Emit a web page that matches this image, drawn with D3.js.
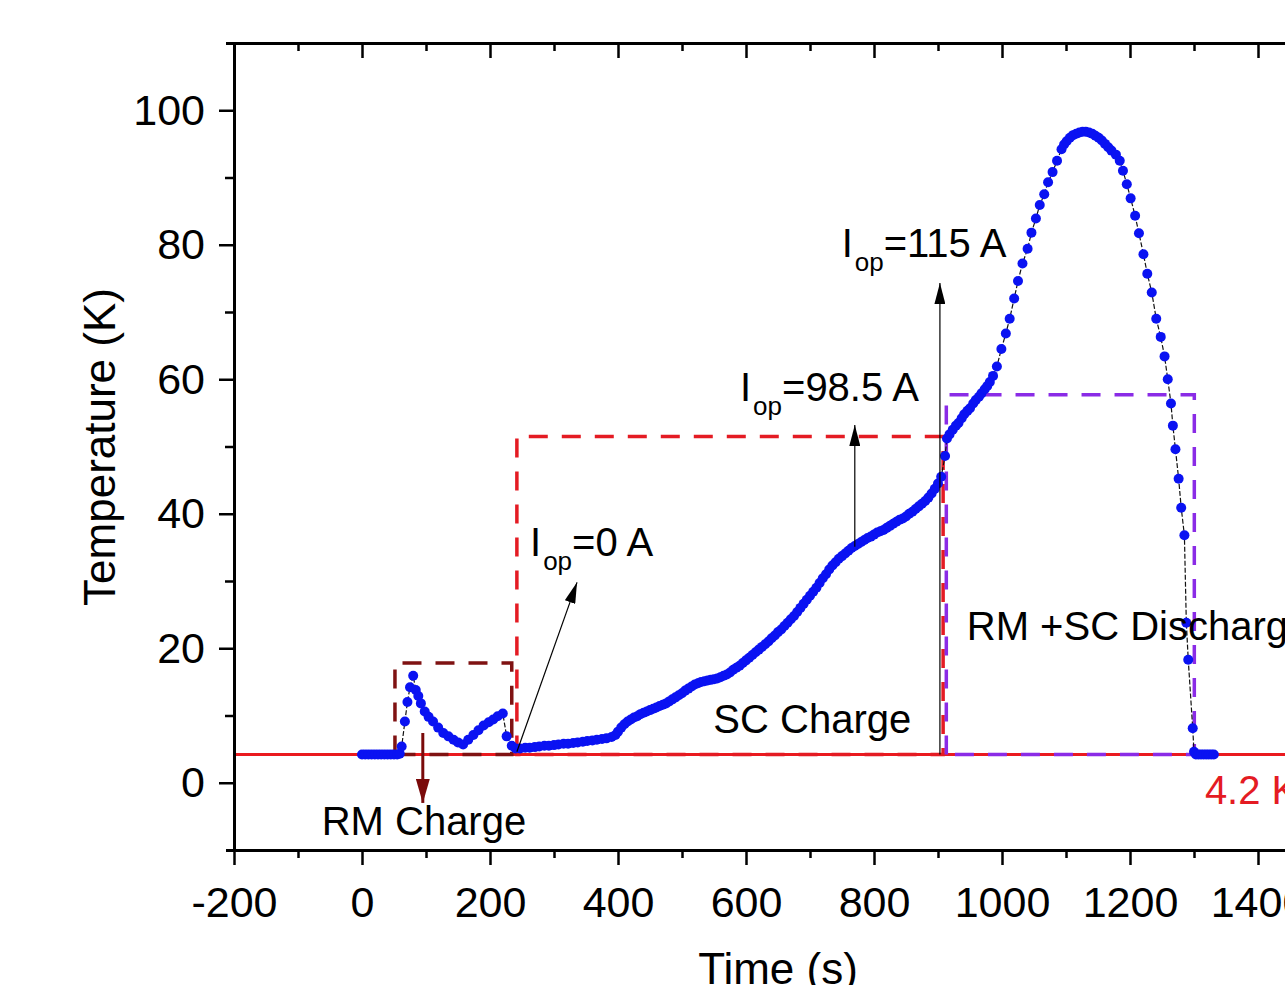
<!DOCTYPE html>
<html>
<head>
<meta charset="utf-8">
<script src="https://cdn.jsdelivr.net/npm/d3@7"></script>
<style>
  body { margin: 0; background: #fff; }
  svg { display: block; font-family: "Liberation Sans", Arial, sans-serif; }
</style>
</head>
<body>
<div class="chart"></div>
<script>
// time (s) and temperature (K)
const times = [
  0, 5, 10, 15, 20, 25, 30, 35, 40, 45, 50, 55, 59,
  62, 67, 71, 75, 80, 84, 88, 92, 98, 104, 111, 119, 127, 135, 143, 150, 158,
  166, 174, 182, 190, 198, 205, 212, 220, 226, 234, 240,
  247, 255, 262, 270, 277, 285, 292, 300, 307, 315, 322, 330, 337, 345, 352,
  360, 367, 375, 382, 390, 396,
  400, 405, 410, 415, 420, 425, 430, 435, 440, 445, 450, 455, 460, 465, 470,
  475, 480, 485, 490, 495, 500, 505, 510, 515, 520, 525, 530, 535, 540, 545,
  550, 555, 560, 565, 570, 575, 580, 585, 590, 595, 600, 605, 610, 615, 620,
  625, 630, 635, 640, 645, 650, 655, 660, 665, 670, 675, 680, 685, 690, 695,
  700, 705, 710, 715, 720, 725, 730, 735, 740, 745, 750, 755, 760, 765, 770,
  775, 780, 785, 790, 795, 800, 805, 810, 815, 820, 825, 830, 835, 840, 845,
  850, 855, 860, 865, 870, 875, 880, 885, 890, 895, 900, 905, 911,
  914, 918, 923, 928, 932, 937, 941, 946, 950, 955, 959, 964, 968, 973, 977,
  981, 986, 992, 999, 1006, 1012, 1019, 1025, 1032, 1040, 1046, 1053, 1059,
  1066, 1072, 1079, 1086, 1093, 1097, 1101, 1106, 1111, 1116, 1121, 1126,
  1131, 1136, 1141, 1146, 1151, 1156, 1161, 1166, 1171, 1178, 1184, 1189,
  1195, 1201, 1208, 1214, 1221, 1227, 1234, 1241, 1248, 1254, 1259, 1264,
  1267, 1271, 1276, 1280, 1285, 1288, 1291, 1298, 1300, 1303, 1307, 1311,
  1315, 1319, 1323, 1327, 1331
];
const temps = [
  4.2, 4.2, 4.2, 4.2, 4.2, 4.2, 4.2, 4.2, 4.2, 4.2, 4.2, 4.2, 4.3,
  5.4, 9.1, 12.0, 14.2, 15.9, 13.8, 12.9, 11.8, 10.6, 9.8, 9.1, 8.2, 7.4, 6.9, 6.4, 6.0, 5.7,
  6.4, 7.1, 7.8, 8.5, 9.0, 9.4, 9.9, 10.3, 6.9, 5.5, 5.1,
  5.1, 5.2, 5.2, 5.3, 5.4, 5.5, 5.5, 5.6, 5.7, 5.8, 5.8, 5.9, 6.0, 6.1, 6.2,
  6.3, 6.4, 6.5, 6.6, 6.8, 7.1,
  7.6, 8.2, 8.7, 9.1, 9.4, 9.7, 9.9, 10.2, 10.4, 10.6, 10.8, 11.0, 11.2, 11.4, 11.6,
  11.8, 12.1, 12.4, 12.7, 13.0, 13.3, 13.7, 14.0, 14.3, 14.6, 14.8, 15.0, 15.1, 15.2, 15.3,
  15.4, 15.5, 15.7, 15.9, 16.1, 16.4, 16.8, 17.1, 17.4, 17.8, 18.2, 18.6, 19.0, 19.4, 19.8,
  20.2, 20.6, 21.0, 21.5, 21.9, 22.4, 22.8, 23.3, 23.8, 24.3, 24.8, 25.4, 26.0, 26.6, 27.2,
  27.8, 28.4, 29.0, 29.7, 30.4, 31.0, 31.7, 32.3, 32.8, 33.3, 33.7, 34.1, 34.5, 34.9, 35.2,
  35.5, 35.8, 36.1, 36.4, 36.6, 36.9, 37.2, 37.4, 37.6, 37.9, 38.2, 38.5, 38.8, 39.1, 39.3,
  39.6, 40.0, 40.3, 40.7, 41.1, 41.5, 41.9, 42.4, 43.0, 43.7, 44.5, 45.5, 48.6,
  51.2, 51.8, 52.5, 53.1, 53.5, 54.2, 54.8, 55.3, 55.7, 56.4, 56.9, 57.4, 57.9, 58.5, 59.0,
  59.6, 60.5, 61.9, 64.5, 66.8, 69.0, 72.0, 74.6, 77.2, 79.4, 81.8, 83.9, 85.9,
  87.5, 89.3, 90.8, 92.5, 94.2, 94.9, 95.4, 95.9, 96.3, 96.5, 96.7, 96.8,
  96.8, 96.7, 96.5, 96.2, 95.9, 95.5, 95.0, 94.5, 94.0, 93.4, 92.5, 91.0,
  89.0, 86.9, 84.3, 81.7, 78.6, 75.7, 72.9, 69.0, 66.3, 63.4, 60.0, 56.4,
  53.1, 49.6, 45.2, 40.9, 36.8, 23.8, 18.3, 8.1, 4.6, 4.2, 4.2, 4.2,
  4.2, 4.2, 4.2, 4.2, 4.2
];

// [start, end, level] of the three current windows
const rmCharge = [51.5, 234, 17.8];
const scCharge = [242, 908, 51.5];
const discharge = [913, 1300.5, 57.7];
const baseTemp = 4.2;

const xMajor = [-200, 0, 200, 400, 600, 800, 1000, 1200, 1400];
const xMinor = [-100, 100, 300, 500, 700, 900, 1100, 1300, 1500];
const yMajor = [0, 20, 40, 60, 80, 100];
const yMinor = [10, 30, 50, 70, 90];

const width = 1285, height = 985;
const fontTick = 43, fontTitle = 44, fontNote = 40, fontSub = 26;

const svg = d3.select('.chart')
    .append('svg')
    .attr('width', width)
    .attr('height', height);

const x = d3.scaleLinear().domain([-200, 1500]).range([234, 1322]);
const y = d3.scaleLinear().domain([-10, 110]).range([850, 43]);

// arrow heads
const defs = svg.append('defs');
function addHead(id, color, len, wid) {
    defs.append('marker')
        .attr('id', id)
        .attr('markerUnits', 'userSpaceOnUse')
        .attr('markerWidth', len)
        .attr('markerHeight', wid)
        .attr('refX', len)
        .attr('refY', wid / 2)
        .attr('orient', 'auto')
        .append('path')
        .attr('d', `M0,0 L${len},${wid / 2} L0,${wid} Z`)
        .attr('fill', color);
}
addHead('headBlack', '#000', 21, 11);
addHead('headRed', '#7a0a0a', 24, 14);

// 4.2 K reference line
svg.append('line')
    .attr('x1', x(-200)).attr('x2', x(1500))
    .attr('y1', y(baseTemp)).attr('y2', y(baseTemp))
    .attr('stroke', '#ea1a1f')
    .attr('stroke-width', 3);

function windowBox(w, color) {
    const [t0, t1, lvl] = w;
    svg.append('path')
        .attr('d', `M${x(t0)},${y(baseTemp)} V${y(lvl)} H${x(t1)} V${y(baseTemp)} Z`)
        .attr('fill', 'none')
        .attr('stroke', color)
        .attr('stroke-width', 3.5)
        .attr('stroke-dasharray', '19,14');
}
windowBox(rmCharge, '#7f1212');
windowBox(scCharge, '#e41b23');
windowBox(discharge, '#8a2be6');

// measured data
const pts = times.map((t, i) => [t, temps[i]]);

svg.append('path')
    .datum(pts)
    .attr('fill', 'none')
    .attr('stroke', '#111')
    .attr('stroke-width', 1.2)
    .attr('stroke-dasharray', '5,2')
    .attr('d', d3.line().x(d => x(d[0])).y(d => y(d[1])));

svg.selectAll('circle.pt')
    .data(pts)
    .enter()
    .append('circle')
    .attr('class', 'pt')
    .attr('cx', d => x(d[0]))
    .attr('cy', d => y(d[1]))
    .attr('r', 5)
    .attr('fill', '#0a12f2');

// annotation arrows
const arrows = [
    { from: [95, 7.4], to: [95, -3.0], color: '#7a0a0a', w: 3, head: 'headRed' },
    { from: [242, 4.6], to: [336, 29.8], color: '#000', w: 1.2, head: 'headBlack' },
    { from: [770, 35.1], to: [770, 53.2], color: '#000', w: 1.2, head: 'headBlack' },
    { from: [903, 4.2], to: [903, 74.3], color: '#000', w: 1.2, head: 'headBlack' }
];
svg.selectAll('line.arrow')
    .data(arrows)
    .enter()
    .append('line')
    .attr('class', 'arrow')
    .attr('x1', d => x(d.from[0])).attr('y1', d => y(d.from[1]))
    .attr('x2', d => x(d.to[0])).attr('y2', d => y(d.to[1]))
    .attr('stroke', d => d.color)
    .attr('stroke-width', d => d.w)
    .attr('marker-end', d => `url(#${d.head})`);

// axes
const axisG = svg.append('g').attr('class', 'axes');

function styleAxis(g) {
    g.select('.domain').attr('stroke', '#000').attr('stroke-width', 3);
    g.selectAll('.tick line').attr('stroke', '#000').attr('stroke-width', 2.5);
    g.selectAll('.tick text').attr('fill', '#000').attr('font-size', fontTick);
    g.attr('font-family', null);
}

axisG.append('g')
    .attr('transform', `translate(0,${y(-10)})`)
    .call(d3.axisBottom(x).tickValues(xMinor).tickSize(8).tickSizeOuter(0).tickFormat(''))
    .call(styleAxis);
axisG.append('g')
    .attr('transform', `translate(0,${y(-10)})`)
    .call(d3.axisBottom(x).tickValues(xMajor).tickSize(15).tickSizeOuter(0).tickPadding(21).tickFormat(d => String(d)))
    .call(styleAxis);

axisG.append('g')
    .attr('transform', `translate(0,${y(110)})`)
    .call(d3.axisTop(x).tickValues(xMinor).tickSize(-8).tickSizeOuter(0).tickFormat(''))
    .call(styleAxis);
axisG.append('g')
    .attr('transform', `translate(0,${y(110)})`)
    .call(d3.axisTop(x).tickValues(xMajor).tickSize(-15).tickSizeOuter(0).tickFormat(''))
    .call(styleAxis);

axisG.append('g')
    .attr('transform', `translate(${x(-200)},0)`)
    .call(d3.axisLeft(y).tickValues(yMinor).tickSize(9).tickSizeOuter(0).tickFormat(''))
    .call(styleAxis);
axisG.append('g')
    .attr('transform', `translate(${x(-200)},0)`)
    .call(d3.axisLeft(y).tickValues(yMajor).tickSize(15).tickSizeOuter(8).tickPadding(14).tickFormat(d => String(d)))
    .call(styleAxis);

// axis titles
svg.append('text')
    .attr('x', 778)
    .attr('y', 984)
    .attr('text-anchor', 'middle')
    .attr('font-size', fontTitle)
    .text('Time (s)');

svg.append('text')
    .attr('transform', 'translate(115,447) rotate(-90)')
    .attr('text-anchor', 'middle')
    .attr('font-size', fontTitle)
    .text('Temperature (K)');

// plain notes
const notes = [
    { t: -63, T: -7.8, text: 'RM Charge', color: '#000' },
    { t: 549, T: 7.35, text: 'SC Charge', color: '#000' },
    { t: 945, T: 21.2, text: 'RM +SC Discharge', color: '#000' },
    { t: 1317, T: -3.1, text: '4.2 K', color: '#e41b23' }
];
svg.selectAll('text.note')
    .data(notes)
    .enter()
    .append('text')
    .attr('class', 'note')
    .attr('x', d => x(d.t))
    .attr('y', d => y(d.T))
    .attr('font-size', fontNote)
    .attr('fill', d => d.color)
    .text(d => d.text);

// current labels with subscript
const currents = [
    { t: 262.5, T: 33.7, value: '=0 A' },
    { t: 590.6, T: 56.7, value: '=98.5 A' },
    { t: 749.5, T: 78.2, value: '=115 A' }
];
const cur = svg.selectAll('text.cur')
    .data(currents)
    .enter()
    .append('text')
    .attr('class', 'cur')
    .attr('x', d => x(d.t))
    .attr('y', d => y(d.T))
    .attr('font-size', fontNote);
cur.append('tspan').text('I');
cur.append('tspan').attr('font-size', fontSub).attr('dy', 14).attr('dx', 2).text('op');
cur.append('tspan').attr('dy', -14).text(d => d.value);
</script>
</body>
</html>
